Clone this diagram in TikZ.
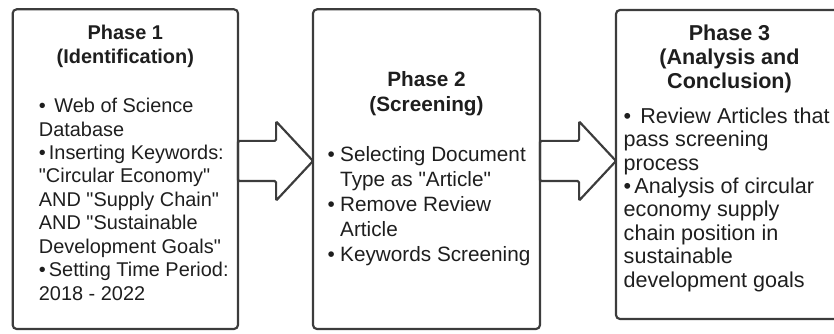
\documentclass[tikz,border=0pt]{standalone}
\usepackage{fontspec}
\setmainfont{Liberation Sans}[Ligatures=TeXOff]
\usetikzlibrary{shapes.arrows,
                positioning}
\definecolor{mgray}{RGB}{60,60,60}
\definecolor{mtext}{RGB}{30,30,30}
\tikzset{
    phase/.style = {rectangle, draw=mgray, line width=0.065cm, rounded corners=0.12cm,
                    inner sep=0pt, outer sep=0pt, minimum height=9.59cm},
    title/.style = {align=center, inner sep=0pt, text=mtext,
                    font=\bfseries\fontsize{17}{20}\selectfont},
    items/.style = {align=left, inner sep=0pt, text=mtext,
                    font=\fontsize{17}{20}\selectfont},
    bigarrow/.style = {single arrow, draw=mgray, line width=0.065cm, rounded corners=0.04cm,
                       single arrow head extend=0.585cm, single arrow tip angle=94,
                       minimum height=2.25cm, inner xsep=0pt, inner ysep=0.57cm, outer sep=0pt}
    }
\newcommand{\itm}[1][0.3cm]{\makebox[#1][l]{•}}

\begin{document}
\begin{tikzpicture}
\useasboundingbox (0,0) rectangle (25.02,10.02);
\clip (0,0) rectangle (25.02,10.02);
\node [phase, minimum width=6.76cm] (p1) at (3.76,4.945) {};% <-- Phase 1
\node [phase, minimum width=6.81cm, right=2.25cm of p1] (p2) {};
\node [phase, minimum width=6.81cm, minimum height=9.27cm,
       below right=0.02cm and 2.28cm of p2.north east] (p3) {};% <-- Phase 3
\node [bigarrow, right=0pt of p1.east, yshift=0.245cm] (a1) {};
\node [bigarrow, right=0pt of p2.east, yshift=0.245cm, minimum height=2.28cm] (a2) {};
\node [title, below=0.47cm of p1.north] (t1) {Phase 1\\(Identification)};
\node [title, font=\bfseries\fontsize{17.7}{21.3}\selectfont,
       below=1.87cm of p2.north] (t2) {Phase 2\\(Screening)};
\node [title, font=\bfseries\fontsize{18.4}{20.5}\selectfont,
       below=0.43cm of p3.north] (t3) {Phase 3\\(Analysis and\\Conclusion)};
\node [items, below right=2.66cm and 0.78cm of p1.north west] (l1)
      {\itm\ Web of Science\\Database\\\itm Inserting Keywords:\\"Circular Economy"\\
       AND "Supply Chain"\\AND "Sustainable\\Development Goals"\\
       \itm Setting Time Period:\\2018 - 2022};
\node [items, font=\fontsize{17.7}{21.3}\selectfont,
       below right=4.12cm and 0.435cm of p2.north west] (l2)
      {\itm[0.375cm]Selecting Document\\\hspace*{0.375cm}Type as "Article"\\
       \itm[0.375cm]Remove Review\\\hspace*{0.375cm}Article\\
       \itm[0.375cm]Keywords Screening};
\node [items, font=\fontsize{18.4}{20}\selectfont,
       below right=2.92cm and 0.225cm of p3.north west] (l3)
      {\itm[0.32cm]\ Review Articles that\\pass screening\\process\\
       \itm[0.32cm]Analysis of circular\\economy supply\\chain position in\\
       sustainable\\development goals};
\end{tikzpicture}
\end{document}
